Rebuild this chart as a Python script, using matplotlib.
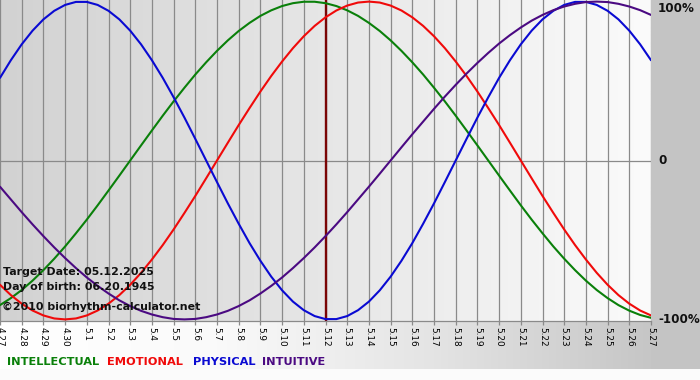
import matplotlib
matplotlib.use('Agg')
import matplotlib.pyplot as plt
import matplotlib.transforms as mtransforms
from matplotlib.colors import LinearSegmentedColormap
from matplotlib.patches import Rectangle
import numpy as np

# days shown on the x axis (4.27 .. 5.27)
day_labels = ['4.27', '4.28', '4.29', '4.30', '5.1', '5.2', '5.3', '5.4', '5.5', '5.6',
              '5.7', '5.8', '5.9', '5.10', '5.11', '5.12', '5.13', '5.14', '5.15', '5.16',
              '5.17', '5.18', '5.19', '5.20', '5.21', '5.22', '5.23', '5.24', '5.25', '5.26',
              '5.27']
target_label = '5.12'

# cycle values (-1 .. 1) read every half day from 4.27 to 5.27
physical = [0.520, 0.631, 0.731, 0.817, 0.888, 0.942, 0.979, 0.998, 0.998, 0.979,
            0.942, 0.888, 0.817, 0.731, 0.631, 0.520, 0.398, 0.270, 0.136, 0.000,
            -0.136, -0.270, -0.398, -0.520, -0.631, -0.731, -0.817, -0.888, -0.942, -0.979,
            -0.998, -0.998, -0.979, -0.942, -0.888, -0.817, -0.731, -0.631, -0.520, -0.398,
            -0.270, -0.136, 0.000, 0.136, 0.270, 0.398, 0.520, 0.631, 0.731, 0.817,
            0.888, 0.942, 0.979, 0.998, 0.998, 0.979, 0.942, 0.888, 0.817, 0.731, 0.631]
emotional = [-0.782, -0.847, -0.901, -0.944, -0.975, -0.994, -1.000, -0.994, -0.975, -0.944,
             -0.901, -0.847, -0.782, -0.707, -0.623, -0.532, -0.434, -0.330, -0.223, -0.112,
             0.000, 0.112, 0.223, 0.330, 0.434, 0.532, 0.623, 0.707, 0.782, 0.847,
             0.901, 0.944, 0.975, 0.994, 1.000, 0.994, 0.975, 0.944, 0.901, 0.847,
             0.782, 0.707, 0.623, 0.532, 0.434, 0.330, 0.223, 0.112, 0.000, -0.112,
             -0.223, -0.330, -0.434, -0.532, -0.623, -0.707, -0.782, -0.847, -0.901, -0.944, -0.975]
intellectual = [-0.910, -0.866, -0.815, -0.756, -0.690, -0.618, -0.541, -0.458, -0.372, -0.282,
                -0.189, -0.095, 0.000, 0.095, 0.189, 0.282, 0.372, 0.458, 0.541, 0.618,
                0.690, 0.756, 0.815, 0.866, 0.910, 0.945, 0.972, 0.990, 0.999, 0.999,
                0.990, 0.972, 0.945, 0.910, 0.866, 0.815, 0.756, 0.690, 0.618, 0.541,
                0.458, 0.372, 0.282, 0.189, 0.095, 0.000, -0.095, -0.189, -0.282, -0.372,
                -0.458, -0.541, -0.618, -0.690, -0.756, -0.815, -0.866, -0.910, -0.945, -0.972, -0.990]
intuitive = [-0.165, -0.245, -0.325, -0.402, -0.476, -0.547, -0.614, -0.677, -0.736, -0.789,
             -0.837, -0.880, -0.916, -0.946, -0.969, -0.986, -0.997, -1.000, -0.997, -0.986,
             -0.969, -0.946, -0.916, -0.880, -0.837, -0.789, -0.736, -0.677, -0.614, -0.547,
             -0.476, -0.402, -0.325, -0.245, -0.165, -0.083, 0.000, 0.083, 0.165, 0.245,
             0.325, 0.402, 0.476, 0.547, 0.614, 0.677, 0.736, 0.789, 0.837, 0.880,
             0.916, 0.946, 0.969, 0.986, 0.997, 1.000, 0.997, 0.986, 0.969, 0.946, 0.916]

series = [('INTELLECTUAL', intellectual, '#0a800a'),
          ('EMOTIONAL', emotional, '#f00a0a'),
          ('PHYSICAL', physical, '#0a0ad2'),
          ('INTUITIVE', intuitive, '#4b0a82')]

W, H = 700, 380
px_right = 651   # right edge of plot
px_bottom = 321  # bottom edge of plot

fig = plt.figure(figsize=(W / 100, H / 100), dpi=100)
fig.patch.set_facecolor('#fbfbfb')

# background pieces in pixel coordinates
bg = fig.add_axes([0, 0, 1, 1])
grad = np.linspace(0, 1, 256)[None, :]
cmap_b = LinearSegmentedColormap.from_list('b', ['#ffffff', '#fafafa', '#e4e4e4', '#c6c6c6'])
bg.imshow(grad, cmap=cmap_b, extent=[0, px_right, 369, px_bottom], aspect='auto')
bg.add_patch(Rectangle((px_right, 0), W - px_right, 369, color='#c4c4c4', lw=0))
bg.set_xlim(0, W)
bg.set_ylim(H, 0)
bg.axis('off')

ax = fig.add_axes([0, (H - px_bottom) / H, px_right / W, px_bottom / H])
x = np.arange(len(day_labels))
xs = np.arange(len(physical)) * 0.5   # half-day sample positions
ylo, yhi = -1.01, 1.01
cmap_p = LinearSegmentedColormap.from_list('p', ['#d2d2d2', '#fbfbfb'])
ax.imshow(grad, cmap=cmap_p, extent=[0, x[-1], ylo, yhi], aspect='auto', zorder=0)

for xi in x:
    ax.axvline(xi, color='#8a8a8a', lw=0.9, zorder=1)
ax.axhline(0, color='#8a8a8a', lw=0.9, zorder=1)
ax.axvline(day_labels.index(target_label), color='#7a0505', lw=1.7, zorder=3)

for name, vals, col in series:
    ax.plot(xs, vals, color=col, lw=1.5, zorder=4,
            solid_capstyle='round', solid_joinstyle='round')

ax.set_xlim(0, x[-1])
ax.set_ylim(ylo, yhi)
ax.set_xticks(x)
ax.set_xticklabels(day_labels, rotation=-90, fontsize=6.4, va='top', ha='center')
ax.tick_params(axis='x', length=3, width=0.9, color='#8a8a8a', pad=1)
ax.set_yticks([])
for s in ['top', 'left', 'right']:
    ax.spines[s].set_visible(False)
ax.spines['bottom'].set_color('#8a8a8a')
ax.spines['bottom'].set_linewidth(0.9)

# percent labels on the right
trans = mtransforms.blended_transform_factory(ax.transAxes, ax.transData)
lx = 1 + 7 / px_right
ax.text(lx, 1.0, '100%', transform=trans, va='top', ha='left', fontsize=8.6,
        fontweight='bold', color='#111111', clip_on=False)
ax.text(lx, 0.0, '0', transform=trans, va='center', ha='left', fontsize=8.6,
        fontweight='bold', color='#111111', clip_on=False)
ax.text(lx, -1.0, '-100%', transform=trans, va='center', ha='left', fontsize=8.6,
        fontweight='bold', color='#111111', clip_on=False)

# info text inside the plot
def ftext(px, py, s, **kw):
    fig.text(px / W, 1 - py / H, s, va='center', ha='left', **kw)

ftext(3, 272, 'Target Date: 05.12.2025', fontsize=7.9, fontweight='bold', color='#111111')
ftext(3, 287, 'Day of birth: 06.20.1945', fontsize=7.9, fontweight='bold', color='#111111')
ftext(2, 307, '\u00a92010 biorhythm-calculator.net', fontsize=7.9, fontweight='bold', color='#111111')

# colored legend words
legend_x = [7, 107, 193, 262]
for (name, vals, col), lxp in zip(series, legend_x):
    ftext(lxp, 362, name, fontsize=8.2, fontweight='bold', color=col)

fig.savefig('out.png', dpi=100, facecolor=fig.get_facecolor())
